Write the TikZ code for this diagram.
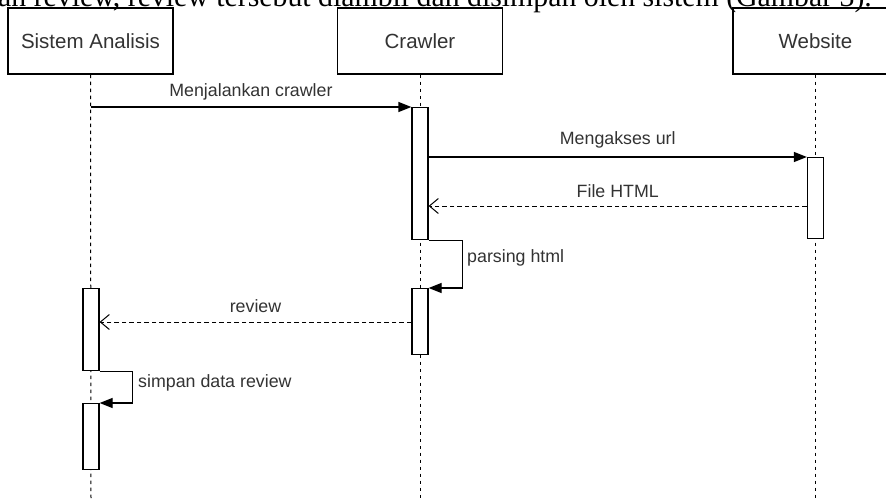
\documentclass[tikz,border=0pt]{standalone}
\usepackage{fontspec}
\setmainfont{Liberation Sans}
\newfontfamily\bodyserif{Liberation Serif}
\usetikzlibrary{arrows.meta}
\begin{document}
\begin{tikzpicture}[x=1pt,y=-1pt,
  actor/.style={draw, line width=1.2pt, minimum width=165pt, minimum height=66pt,
    inner sep=0pt, font=\fontsize{20.5}{23}\selectfont, text=black!80},
  bar/.style={draw, fill=white, line width=1.2pt, minimum width=16pt, inner sep=0pt},
  lifeline/.style={line width=1pt, dash pattern=on 3.5pt off 3.5pt},
  callmsg/.style={line width=1.2pt, -{Triangle[length=13pt,width=10pt]}},
  replymsg/.style={line width=1pt, dash pattern=on 4.5pt off 3pt,
    -{Straight Barb[length=9pt,width=15pt,line width=1pt]}},
  msglabel/.style={font=\fontsize{17.8}{20}\selectfont, text=black!80, inner sep=0pt}]
\useasboundingbox (0,0) rectangle (886,498);
\fill[white] (0,0) rectangle (886,498);

% running text of the page above the figure
\node[anchor=base west, inner sep=0pt, font=\bodyserif\fontsize{29.8}{34}\selectfont]
  (para) at (-2,6) {an review, review tersebut diambil dan disimpan oleh sistem (Gambar 3).};

% participants
\node[actor] (sa) at (90.5,41) {Sistem Analisis};
\node[actor] (cr) at (420,41) {Crawler};
\node[actor] (ws) at (815.5,41) {Website};

\coordinate (saEnd) at (91,498);
\coordinate (crEnd) at (420,498);
\coordinate (wsEnd) at (815.5,498);

% lifelines
\draw[lifeline] (sa.south) -- (saEnd);
\draw[lifeline] (cr.south) -- (crEnd);
\draw[lifeline] (ws.south) -- (wsEnd);

% activation bars
\node[bar, anchor=north, minimum height=132pt] (cb1) at (420,107) {};
\node[bar, anchor=north, minimum height=81pt]  (wb)  at (815.5,157) {};
\node[bar, anchor=north, minimum height=66pt]  (cb2) at (420,288) {};
\node[bar, anchor=north, minimum height=82pt]  (sb1) at (91,288) {};
\node[bar, anchor=north, minimum height=66pt]  (sb2) at (91,403) {};

\coordinate (fileY) at (0,206);
\coordinate (revY) at (0,322);

% messages
\draw[callmsg] (sa.south |- cb1.north west) -- (cb1.north west)
  node[msglabel, midway, above=6pt] {Menjalankan crawler};
\draw[callmsg] (cb1.east |- wb.north west) -- (wb.north west)
  node[msglabel, midway, above=8pt] {Mengakses url};
\draw[replymsg] (wb.west |- fileY) -- (cb1.east |- fileY)
  node[msglabel, midway, above=8pt] {File HTML};
\draw[callmsg] (cb1.south east) -- ++(34,0) |- (cb2.north east);
\node[msglabel, anchor=west] (parseLbl) at (467,258) {parsing html};
\draw[replymsg] (cb2.west |- revY) -- (sb1.east |- revY)
  node[msglabel, midway, above=9pt] {review};
\draw[callmsg] (sb1.south east) -- ++(33,0) |- (sb2.north east);
\node[msglabel, anchor=west] (saveLbl) at (138,383) {simpan data review};
\end{tikzpicture}
\end{document}
